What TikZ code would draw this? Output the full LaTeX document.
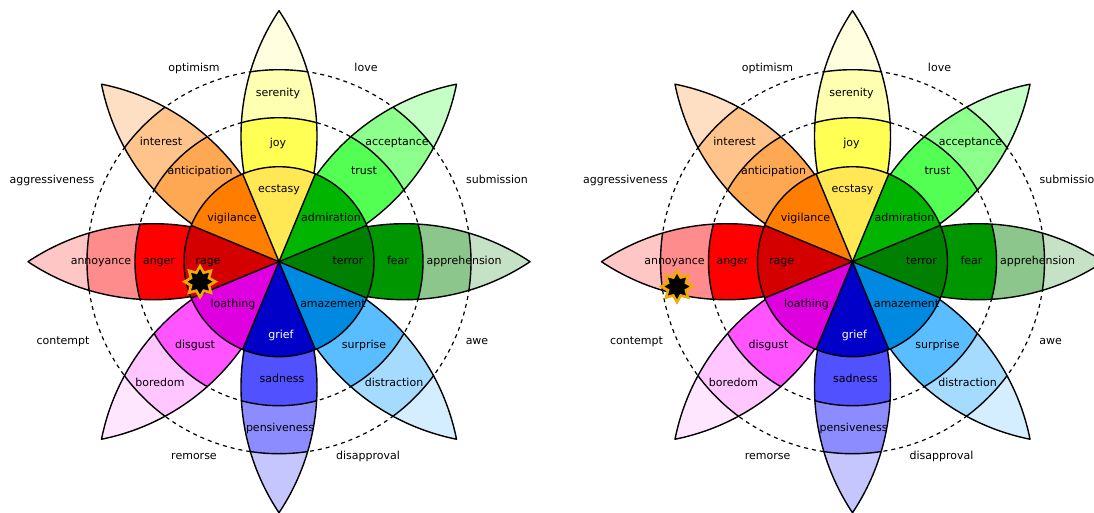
\documentclass[tikz,border=0pt]{standalone}
\usepackage{fontspec}
\setmainfont{DejaVu Sans}
\usetikzlibrary{shapes.geometric}
\definecolor{ecstasyc}{HTML}{FFE854}
\definecolor{joyc}{HTML}{FFFF54}
\definecolor{serenityc}{HTML}{FFFFB1}
\definecolor{joytip}{HTML}{FFFFE0}
\definecolor{admirationc}{HTML}{00B400}
\definecolor{trustc}{HTML}{54FF54}
\definecolor{acceptancec}{HTML}{8CFF8C}
\definecolor{trusttip}{HTML}{C6FFC6}
\definecolor{terrorc}{HTML}{008000}
\definecolor{fearc}{HTML}{009600}
\definecolor{apprehensionc}{HTML}{8CC68C}
\definecolor{feartip}{HTML}{C6E2C6}
\definecolor{amazementc}{HTML}{0089E0}
\definecolor{surprisec}{HTML}{59BDFF}
\definecolor{distractionc}{HTML}{A5DBFF}
\definecolor{surprisetip}{HTML}{D4EEFF}
\definecolor{griefc}{HTML}{0000C8}
\definecolor{sadnessc}{HTML}{5151FF}
\definecolor{pensivenessc}{HTML}{8C8CFF}
\definecolor{sadnesstip}{HTML}{C6C6FF}
\definecolor{loathingc}{HTML}{DE00DE}
\definecolor{disgustc}{HTML}{FF54FF}
\definecolor{boredomc}{HTML}{FFC6FF}
\definecolor{disgusttip}{HTML}{FFE6FF}
\definecolor{ragec}{HTML}{D40000}
\definecolor{angerc}{HTML}{FF0000}
\definecolor{annoyancec}{HTML}{FF8C8C}
\definecolor{angertip}{HTML}{FFC6C6}
\definecolor{vigilancec}{HTML}{FF7D00}
\definecolor{anticipationc}{HTML}{FFA854}
\definecolor{interestc}{HTML}{FFC48C}
\definecolor{anticipationtip}{HTML}{FFDFC4}
\definecolor{starborder}{HTML}{F2A900}
\tikzset{
  dashline/.style={line width=1.2pt, dash pattern=on 4pt off 4pt},
  petalline/.style={line width=1.4pt, black, line join=round},
  lbl/.style={font=\fontsize{11}{12}\selectfont, text height=8pt, text depth=2.3pt, inner sep=0pt},
  starmark/.style={star, star points=8, star point ratio=1.6, minimum size=31pt, inner sep=0pt,
    fill=black, draw=starborder, line width=2.6pt},
  wheel/.pic={
    \draw[dashline] (0,0) circle (144);
    \draw[dashline] (0,0) circle (192);
    \foreach \a/\cb/\cc/\cd in {90/joyc/serenityc/joytip, 45/trustc/acceptancec/trusttip,
        0/fearc/apprehensionc/feartip, -45/surprisec/distractionc/surprisetip,
        -90/sadnessc/pensivenessc/sadnesstip, -135/disgustc/boredomc/disgusttip,
        180/angerc/annoyancec/angertip, 135/anticipationc/interestc/anticipationtip}{
      \begin{scope}[rotate=\a]
        \begin{scope}
          \clip (0,0) arc[start angle=123.7, end angle=56.3, radius=226.24]
                arc[start angle=-56.3, end angle=-123.7, radius=226.24] -- cycle;
          \fill[fill=\cd] (0,0) circle (260);
          \fill[fill=\cc] (0,0) circle (192);
          \fill[fill=\cb] (0,0) circle (144);
          \draw[petalline] (0,0) circle (192) (0,0) circle (144);
        \end{scope}
        \draw[petalline] (0,0) arc[start angle=123.7, end angle=56.3, radius=226.24]
                arc[start angle=-56.3, end angle=-123.7, radius=226.24] -- cycle;
      \end{scope}
    }
    \foreach \a/\ca in {90/ecstasyc, 45/admirationc, 0/terrorc, -45/amazementc,
        -90/griefc, -135/loathingc, 180/ragec, 135/vigilancec}{
      \fill[fill=\ca] (0,0) -- (\a-22.5:95) arc[start angle=\a-22.5, end angle=\a+22.5, radius=95] -- cycle;
    }
    \foreach \a in {22.5,67.5,...,337.5}{
      \draw[petalline] (0,0) -- (\a:95);
    }
    \draw[petalline] (0,0) circle (95);
    % petal labels
    \node[lbl] (serenity) at (-1,168) {serenity};
    \node[lbl] (joy) at (-1,118) {joy};
    \node[lbl] (ecstasy) at (0,72) {ecstasy};
    \node[lbl] (vigilance) at (-47,43) {vigilance};
    \node[lbl] (anticipation) at (-79,90) {anticipation};
    \node[lbl] (interest) at (-118,119) {interest};
    \node[lbl] (admiration) at (52,43) {admiration};
    \node[lbl] (trust) at (85,90) {trust};
    \node[lbl] (acceptance) at (118,119) {acceptance};
    \node[lbl] (rage) at (-71,0) {rage};
    \node[lbl] (anger) at (-120,0) {anger};
    \node[lbl] (annoyance) at (-178,0) {annoyance};
    \node[lbl] (terror) at (69,0) {terror};
    \node[lbl] (fear) at (119,0) {fear};
    \node[lbl] (apprehension) at (185,0) {apprehension};
    \node[lbl] (loathing) at (-46,-43) {loathing};
    \node[lbl] (disgust) at (-84,-84) {disgust};
    \node[lbl] (boredom) at (-119,-122) {boredom};
    \node[lbl, text=white] (grief) at (2,-74) {grief};
    \node[lbl] (sadness) at (3,-118) {sadness};
    \node[lbl] (pensiveness) at (1,-167) {pensiveness};
    \node[lbl] (amazement) at (54,-43) {amazement};
    \node[lbl] (surprise) at (85,-84) {surprise};
    \node[lbl] (distraction) at (115,-122) {distraction};
    % dyad labels
    \node[lbl] (optimism) at (-85,193) {optimism};
    \node[lbl] (love) at (87,193) {love};
    \node[lbl] (aggressiveness) at (-227,81) {aggressiveness};
    \node[lbl] (submission) at (218,81) {submission};
    \node[lbl] (contempt) at (-216,-80) {contempt};
    \node[lbl] (awe) at (198,-80) {awe};
    \node[lbl] (remorse) at (-85,-195) {remorse};
    \node[lbl] (disapproval) at (89,-195) {disapproval};
  }
}
\begin{document}
\begin{tikzpicture}[x=1pt, y=1pt]
  \useasboundingbox (0,-512) rectangle (1094,0);
  \clip (0,-512) rectangle (1094,0);
  \fill[white] (0,-512) rectangle (1094,0);
  \pic (L) at (279,-261.7) {wheel};
  \pic (R) at (852.5,-261.7) {wheel};
  \node[starmark] (Lstar) at (200,-281.7) {};
  \node[starmark] (Rstar) at (677,-286.5) {};
\end{tikzpicture}
\end{document}
